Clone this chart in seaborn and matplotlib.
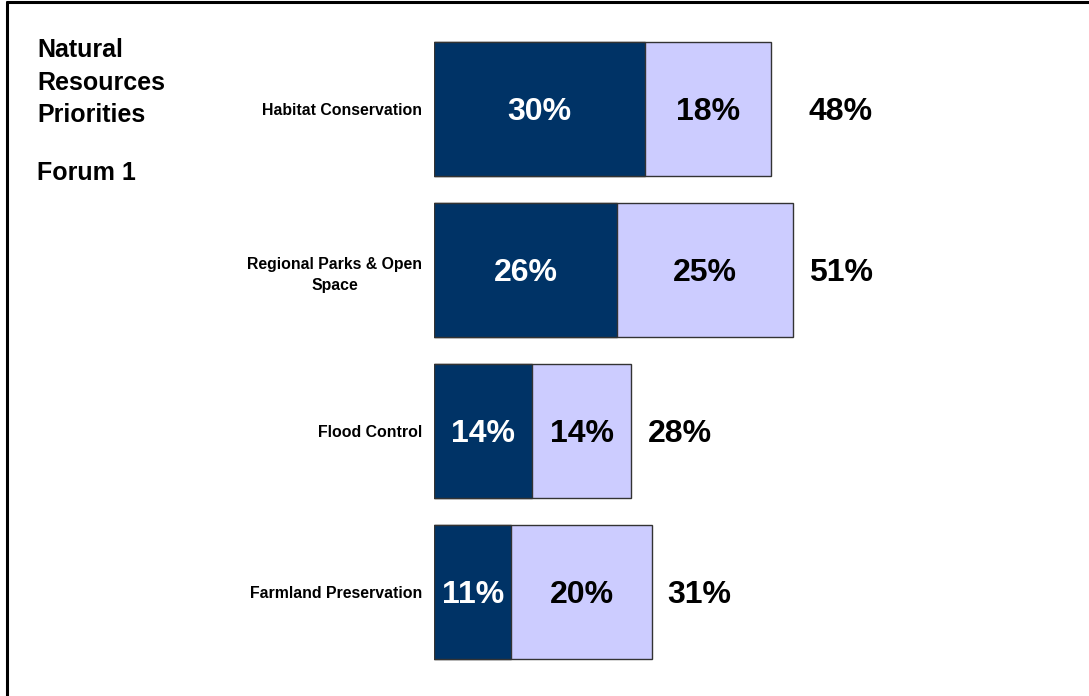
import matplotlib
matplotlib.use("Agg")
import matplotlib.pyplot as plt
import seaborn as sns
import pandas as pd
from matplotlib.lines import Line2D

categories = ["Habitat Conservation", "Regional Parks & Open\nSpace", "Flood Control", "Farmland Preservation"]
first_choice = [30, 26, 14, 11]
second_choice = [18, 25, 14, 20]
totals = [48, 51, 28, 31]

sns.set_theme(style="white")
plt.rcParams['font.family'] = ['Liberation Sans', 'DejaVu Sans']
plt.rcParams['text.color'] = 'black'

df = pd.DataFrame({"cat": categories, "first": first_choice, "second": second_choice, "total": totals})

W, H = 1089, 696
fig = plt.figure(figsize=(W / 100, H / 100), dpi=100)
ax = fig.add_axes([434 / W, 1 - 672.5 / H, (W - 434) / W, (672.5 - 28.5) / H])

dark = "#003366"
light = "#CCCCFF"
edge = "#333333"

sns.barplot(data=df, x="total", y="cat", orient="h", color=light, saturation=1,
            width=0.83, edgecolor=edge, linewidth=1, ax=ax)
sns.barplot(data=df, x="first", y="cat", orient="h", color=dark, saturation=1,
            width=0.83, edgecolor=edge, linewidth=1, ax=ax)

ax.set_xlim(0, (W - 434) / 7.03)
ax.set_ylim(3.5, -0.5)
ax.set_xlabel("")
ax.set_ylabel("")
ax.set_xticks([])
for s in ax.spines.values():
    s.set_visible(False)
ax.tick_params(axis="y", length=0, pad=8.6)
for lbl in ax.get_yticklabels():
    lbl.set_fontsize(11.4)
    lbl.set_fontweight("bold")
    lbl.set_multialignment("center")
    lbl.set_linespacing(1.55)
    lbl.set_color("black")

pads = [37, 16, 17, 15]
for i, (f, s, t) in enumerate(zip(first_choice, second_choice, totals)):
    ax.annotate(f"{f}%", xy=(f / 2, i), xytext=(0, -3), textcoords="offset pixels",
                ha="center", va="center", color="white", fontsize=23, fontweight="bold")
    ax.annotate(f"{s}%", xy=(f + s / 2, i), xytext=(0, -3), textcoords="offset pixels",
                ha="center", va="center", color="black", fontsize=23, fontweight="bold")
    ax.annotate(f"{t}%", xy=(t, i), xytext=(pads[i], -3), textcoords="offset pixels",
                ha="left", va="center", color="black", fontsize=23, fontweight="bold")

fig.text(37 / W, 1 - 38 / H, "Natural\nResources\nPriorities", ha="left", va="top",
         fontsize=18, fontweight="bold", linespacing=1.45, color="black")
fig.text(37 / W, 1 - 161 / H, "Forum 1", ha="left", va="top",
         fontsize=18, fontweight="bold", color="black")

fig.add_artist(Line2D([7 / W, 7 / W], [0, 1 - 2 / H], color="black", lw=2.2,
                      transform=fig.transFigure))
fig.add_artist(Line2D([7 / W, 1], [1 - 2 / H, 1 - 2 / H], color="black", lw=2.2,
                      transform=fig.transFigure))

fig.savefig("out.png", dpi=100)
